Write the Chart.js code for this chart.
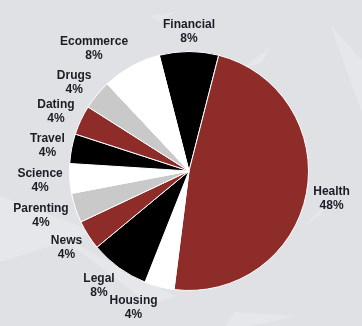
<!DOCTYPE html>
<html>
<head>
<meta charset="utf-8">
<script src="https://cdn.jsdelivr.net/npm/chart.js@4"></script>
<style>
  html, body { margin: 0; padding: 0; background: #dfe1e4; }
  #wrap { width: 362px; height: 326px; }
</style>
</head>
<body>
<div id="wrap"><canvas id="pieCanvas" width="362" height="326"></canvas></div>
<script>
// categories, clockwise from the top
const categories = ["Financial", "Health", "Housing", "Legal", "News", "Parenting",
    "Science", "Travel", "Dating", "Drugs", "Ecommerce"];
const shares = [8, 48, 4, 8, 4, 4, 4, 4, 4, 4, 8];

const RED = "#8e2c2a";
const sliceColors = ["#000000", RED, "#ffffff", "#000000", RED, "#c9c9c9",
    "#ffffff", "#000000", RED, "#c9c9c9", "#ffffff"];

// faint light streaks in the backdrop
const backdrop = {
    id: "backdrop",
    beforeDraw(chart) {
        const ctx = chart.ctx;
        const shapes = [
            [[330, 25], [362, 60], [362, 112]],
            [[0, 196], [95, 232], [0, 262]],
            [[60, 236], [175, 296], [150, 305]],
            [[235, 312], [295, 316], [250, 326], [225, 326]],
            [[240, 70], [270, 48], [262, 62]],
            [[150, 16], [175, 12], [160, 22]],
            [[305, 225], [330, 200], [320, 215]]
        ];
        ctx.save();
        ctx.fillStyle = "rgba(255,255,255,0.22)";
        shapes.forEach(pts => {
            ctx.beginPath();
            pts.forEach(([x, y], k) => k ? ctx.lineTo(x, y) : ctx.moveTo(x, y));
            ctx.closePath();
            ctx.fill();
        });
        ctx.restore();
    }
};

// two-line labels (name + percent) placed just outside each slice
const outsideLabels = {
    id: "outsideLabels",
    afterDatasetsDraw(chart) {
        const ctx = chart.ctx;
        const meta = chart.getDatasetMeta(0);
        const lineH = 14;
        ctx.save();
        ctx.font = "bold 12px 'Liberation Sans', Arial, sans-serif";
        ctx.fillStyle = "#1b1c26";
        ctx.textAlign = "center";
        ctx.textBaseline = "middle";
        meta.data.forEach((arc, i) => {
            const p = arc.getProps(["x", "y", "startAngle", "endAngle", "outerRadius"], true);
            const mid = (p.startAngle + p.endAngle) / 2;
            const ux = Math.cos(mid), uy = Math.sin(mid);
            const lines = [categories[i], shares[i] + "%"];
            const w = Math.max(...lines.map(t => ctx.measureText(t).width));
            const h = lineH * 2;
            const r = p.outerRadius + 7;
            const ax = p.x + r * ux, ay = p.y + r * uy;
            // left side labels end at the anchor, right side ones start there
            const side = Math.abs(ux) < 0.05 ? 0 : Math.sign(ux);
            const cx = ax + side * w / 2;
            const cy = ay + uy * h / 2 + 1;
            ctx.fillText(lines[0], cx, cy - lineH / 2);
            ctx.fillText(lines[1], cx, cy + lineH / 2);
        });
        ctx.restore();
    }
};

new Chart(document.getElementById("pieCanvas"), {
    type: "pie",
    data: {
        labels: categories,
        datasets: [{
            data: shares,
            backgroundColor: sliceColors,
            borderColor: "#ffffff",
            borderWidth: 1
        }]
    },
    options: {
        responsive: false,
        animation: false,
        rotation: -14.4,
        layout: { padding: { left: 69, right: 53, top: 51, bottom: 35 } },
        plugins: {
            legend: { display: false },
            tooltip: { enabled: false }
        }
    },
    plugins: [backdrop, outsideLabels]
});
</script>
</body>
</html>
